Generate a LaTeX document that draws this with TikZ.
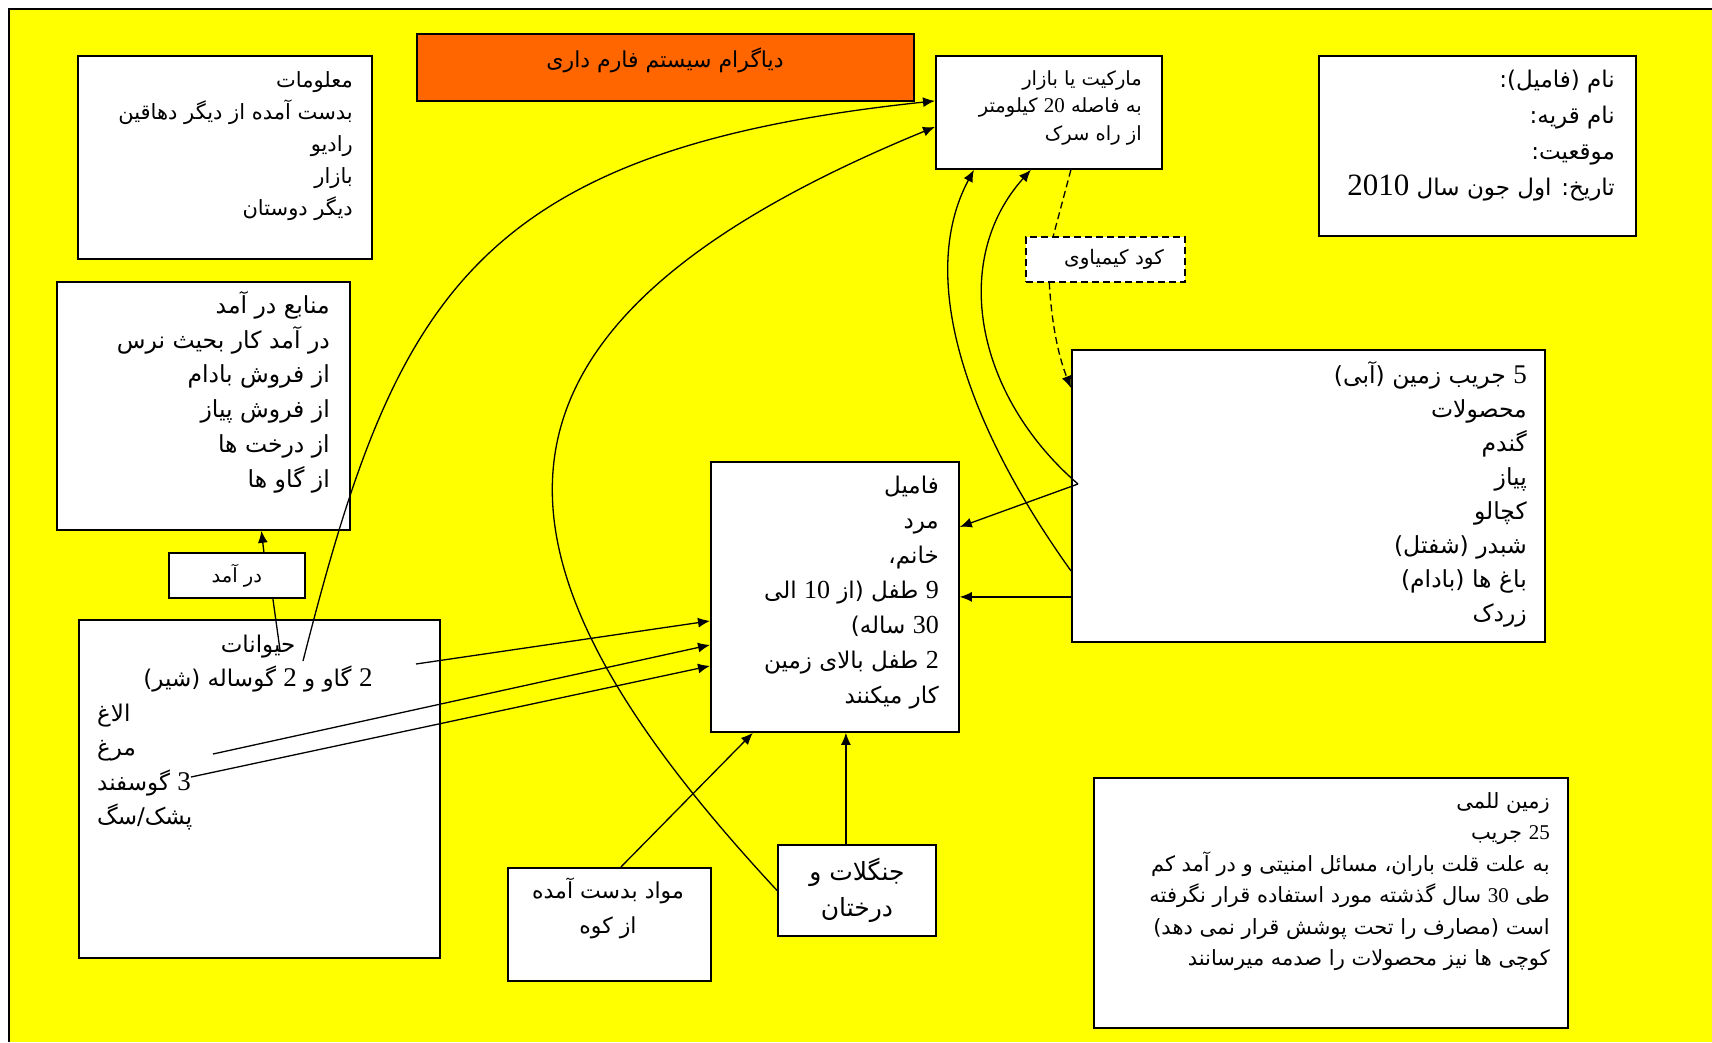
\documentclass[tikz,border=0pt]{standalone}
\usepackage{fontspec}
\setmainfont{DejaVu Sans}
\newfontfamily\arabicfont[Script=Arabic]{DejaVu Sans}
\newfontfamily\digitfont{Liberation Serif}
\TeXXeTstate=1
\usetikzlibrary{arrows.meta}
\definecolor{farmyellow}{RGB}{255,255,0}
\definecolor{titleorange}{RGB}{255,102,0}
\newcommand{\fa}[1]{\beginR #1\endR}
\newcommand{\nmb}[2][26]{\beginL{\digitfont\fontsize{#1}{#1}\selectfont #2}\endL}
\newcommand{\hstrut}{\rule{0pt}{1em}}
\tikzset{
  box/.style={draw, fill=white, line width=1.8pt, anchor=north west, inner sep=0pt},
  txt/.style 2 args={inner sep=0pt, font=\fontsize{#1}{#2}\selectfont\arabicfont},
  flow/.style={line width=1.3pt, -{Latex[length=12pt,width=10pt]}},
  link/.style={line width=1.3pt},
  dashline/.style={dash pattern=on 7pt off 4pt},
}
\begin{document}
\begin{tikzpicture}[x=1pt,y=-1pt]
  \useasboundingbox (0,0) rectangle (1712,1042);
  \fill[farmyellow] (9,9) rectangle (1712,1042);
  \draw[line width=1.5pt] (9,1042) -- (9,9) -- (1712,9);

  % boxes
  \node[box, minimum width=294pt, minimum height=203pt] (maalumat) at (77,55) {};
  \node[box, fill=titleorange, minimum width=497pt, minimum height=67pt] (title) at (416,33) {};
  \node[box, minimum width=226pt, minimum height=113pt] (market) at (935,55) {};
  \node[box, minimum width=317pt, minimum height=180pt] (naam) at (1318,55) {};
  \node[box, line width=1.5pt, dashline, minimum width=159pt, minimum height=45pt] (kood) at (1025,236) {};
  \node[box, minimum width=293pt, minimum height=248pt] (manabe) at (56,281) {};
  \node[box, minimum width=136pt, minimum height=45pt, txt={19.5}{22}] (daramad) at (168,552) {\fa{در آمد}};
  \node[box, minimum width=361pt, minimum height=338pt] (haiwanat) at (78,619) {};
  \node[box, minimum width=248pt, minimum height=270pt] (famil) at (710,461) {};
  \node[box, minimum width=473pt, minimum height=292pt] (zameen) at (1071,349) {};
  \node[box, minimum width=203pt, minimum height=113pt] (mawad) at (507,867) {};
  \node[box, minimum width=158pt, minimum height=91pt, align=center, txt={25}{36}] (jangal) at (777,844) {\fa{جنگلات و}\\ \fa{درختان}};
  \node[box, minimum width=474pt, minimum height=250pt] (lalmi) at (1093,777) {};

  % texts
  \node[txt={22}{24}] (titleT) at (665,60) {\fa{دیاگرام سیستم فارم داری}};
  \node[txt={20}{22}] (koodT) at (1114,259) {\fa{کود کیمیاوی}};
  \node[txt={21}{32}, align=right, anchor=north east] (maalumatT) at (353,66) {\hstrut\fa{معلومات}\\ \fa{بدست آمده از دیگر دهاقین}\\ \fa{رادیو}\\ \fa{بازار}\\ \fa{دیگر دوستان}};
  \node[txt={19.5}{27.5}, align=right, anchor=north east] (marketT) at (1142,65.5) {\hstrut\fa{مارکیت یا بازار}\\ \fa{به فاصله \nmb[21]{20} کیلومتر}\\ \fa{از راه سرک}};
  \node[txt={23}{36}, align=right, anchor=north east] (naamT) at (1615,64.5) {\hstrut\fa{نام (فامیل):}\\ \fa{نام قریه:}\\ \fa{موقعیت:}\\ \fa{تاریخ: اول جون سال \nmb[31]{2010}}};
  \node[txt={23.5}{34.8}, align=right, anchor=north east] (manabeT) at (330,289.5) {\hstrut\fa{منابع در آمد}\\ \fa{در آمد کار بحیث نرس}\\ \fa{از فروش بادام}\\ \fa{از فروش پیاز}\\ \fa{از درخت ها}\\ \fa{از گاو ها}};
  \node[txt={23}{34.5}, align=center, anchor=north] (haiwanatT) at (258,629) {\hstrut\fa{حیوانات}\\ \fa{\nmb[27]{2} گاو و \nmb[27]{2} گوساله (شیر)}};
  \node[txt={23}{34.5}, align=left, anchor=north west] (haiwanatL) at (97,698) {\hstrut\fa{الاغ}\\ \fa{مرغ}\\ \fa{\nmb[27]{3} گوسفند}\\ \fa{پشک/سگ}};
  \node[txt={23}{35}, align=right, anchor=north east] (familT) at (939,470) {\hstrut\fa{فامیل}\\ \fa{مرد}\\ \fa{خانم،}\\ \fa{\nmb{9} طفل (از \nmb{10} الی}\\ \fa{\nmb{30} ساله)}\\ \fa{\nmb{2} طفل بالای زمین}\\ \fa{کار میکنند}};
  \node[txt={23.5}{34}, align=right, anchor=north east] (zameenT) at (1527,360) {\hstrut\fa{\nmb[27]{5} جریب زمین (آبی)}\\ \fa{محصولات}\\ \fa{گندم}\\ \fa{پیاز}\\ \fa{کچالو}\\ \fa{شبدر (شفتل)}\\ \fa{باغ ها (بادام)}\\ \fa{زردک}};
  \node[txt={22}{35}, align=center, anchor=north] (mawadT) at (608,876) {\hstrut\fa{مواد بدست آمده}\\ \fa{از کوه}};
  \node[txt={21}{31.5}, align=right, anchor=north east] (lalmiT) at (1550,787) {\hstrut\fa{زمین للمی}\\ \fa{\nmb[21]{25} جریب}\\ \fa{به علت قلت باران، مسائل امنیتی و در آمد کم}\\ \fa{طی \nmb[21]{30} سال گذشته مورد استفاده قرار نگرفته}\\ \fa{است (مصارف را تحت پوشش قرار نمی دهد)}\\ \fa{کوچی ها نیز محصولات را صدمه میرسانند}};

  % free ends inside boxes
  \coordinate (cowS) at (303,661);
  \coordinate (hwnS) at (280,650);
  \coordinate (cowL) at (416,664);
  \coordinate (henL) at (213,754);
  \coordinate (shpL) at (191,777);
  \coordinate (zmX) at (1078,484);

  % connectors
  \draw[flow] (cowS) .. controls (395,300) and (470,150) .. ([yshift=11.5pt]market.west);
  \draw[link] (hwnS) -- ([xshift=36pt]daramad.south);
  \draw[flow] ([xshift=27pt]daramad.north) -- ([xshift=58pt]manabe.south);
  \draw[flow] (cowL) -- ([yshift=-24pt]famil.west);
  \draw[flow] (henL) -- ([yshift=-48pt]famil.west);
  \draw[flow] (shpL) -- ([yshift=-69pt]famil.west);
  \draw[flow] (zmX) -- ([yshift=70pt]famil.east);
  \draw[flow] ([yshift=-101pt]zameen.west) -- (famil.east);
  \draw[flow] ([yshift=-75pt]zameen.west) .. controls (970,430) and (915,280) .. ([xshift=-75pt]market.south);
  \draw[flow] (zmX) .. controls (975,395) and (950,260) .. ([xshift=-18pt]market.south);
  \draw[link, dashline] ([xshift=22pt]market.south) -- ([xshift=-52pt]kood.north);
  \draw[flow, dashline] ([xshift=-56pt]kood.south) .. controls (1052,330) and (1060,360) .. ([yshift=-39pt]zameen.north west);
  \draw[flow] (jangal.west) .. controls (470,560) and (440,330) .. ([yshift=-14.5pt]market.west);
  \draw[flow] ([xshift=11.5pt]mawad.north) -- ([xshift=-82pt]famil.south);
  \draw[flow] ([xshift=-11pt]jangal.north) -- ([xshift=11pt]famil.south);
\end{tikzpicture}
\end{document}
